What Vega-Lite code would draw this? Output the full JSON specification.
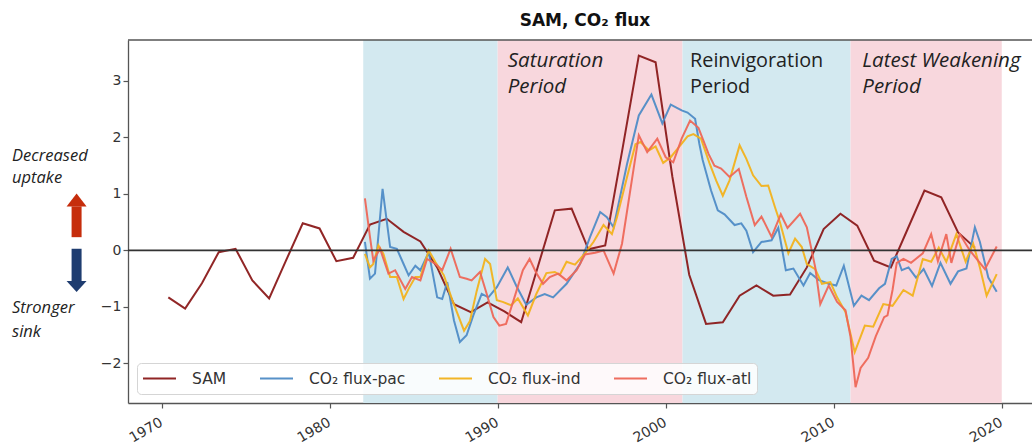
{
  "$schema": "https://vega.github.io/schema/vega-lite/v6.json",
  "width": 904,
  "height": 363,
  "autosize": {"type": "none"},
  "padding": {"left": 128, "top": 40, "right": 0, "bottom": 44},
  "background": "white",
  "view": {"stroke": null},
  "title": {"text": "SAM, CO₂ flux", "font": "DejaVu Sans", "fontSize": 17, "fontWeight": "bold", "anchor": "middle", "dx": 5, "offset": 9, "color": "#111"},
  "config": {
    "axis": {"grid": false, "title": null, "labelFont": "DejaVu Sans", "labelFontSize": 14, "labelColor": "#333", "domainColor": "#555", "domainWidth": 1.3, "tickColor": "#555", "tickSize": 5, "tickWidth": 1.2}
  },
  "datasets": {
    "bands": [
      {"start": 1982, "end": 1990, "kind": "blue"},
      {"start": 1990, "end": 2001, "kind": "pink"},
      {"start": 2001, "end": 2011, "kind": "blue"},
      {"start": 2011, "end": 2020, "kind": "pink"}
    ],
    "flux": [
      {"series":"SAM","year":1970.4,"value":-0.83},{"series":"SAM","year":1971.4,"value":-1.03},{"series":"SAM","year":1972.4,"value":-0.58},{"series":"SAM","year":1973.4,"value":-0.03},{"series":"SAM","year":1974.4,"value":0.03},{"series":"SAM","year":1975.4,"value":-0.53},{"series":"SAM","year":1976.4,"value":-0.85},{"series":"SAM","year":1977.4,"value":-0.18},{"series":"SAM","year":1978.4,"value":0.48},{"series":"SAM","year":1979.4,"value":0.39},{"series":"SAM","year":1980.4,"value":-0.19},{"series":"SAM","year":1981.4,"value":-0.13},{"series":"SAM","year":1982.4,"value":0.46},{"series":"SAM","year":1983.4,"value":0.56},{"series":"SAM","year":1984.4,"value":0.33},{"series":"SAM","year":1985.4,"value":0.16},{"series":"SAM","year":1986.4,"value":-0.3},{"series":"SAM","year":1987.4,"value":-0.95},{"series":"SAM","year":1988.4,"value":-1.09},{"series":"SAM","year":1989.4,"value":-0.92},{"series":"SAM","year":1990.4,"value":-1.08},{"series":"SAM","year":1991.4,"value":-1.27},{"series":"SAM","year":1992.4,"value":-0.28},{"series":"SAM","year":1993.4,"value":0.71},{"series":"SAM","year":1994.4,"value":0.74},{"series":"SAM","year":1995.4,"value":0.02},{"series":"SAM","year":1996.4,"value":0.09},{"series":"SAM","year":1997.4,"value":1.75},{"series":"SAM","year":1998.4,"value":3.45},{"series":"SAM","year":1999.4,"value":3.33},{"series":"SAM","year":2000.4,"value":1.3},{"series":"SAM","year":2001.4,"value":-0.43},{"series":"SAM","year":2002.4,"value":-1.3},{"series":"SAM","year":2003.4,"value":-1.27},{"series":"SAM","year":2004.4,"value":-0.8},{"series":"SAM","year":2005.4,"value":-0.62},{"series":"SAM","year":2006.4,"value":-0.8},{"series":"SAM","year":2007.4,"value":-0.78},{"series":"SAM","year":2008.4,"value":-0.3},{"series":"SAM","year":2009.4,"value":0.38},{"series":"SAM","year":2010.4,"value":0.65},{"series":"SAM","year":2011.4,"value":0.44},{"series":"SAM","year":2012.4,"value":-0.18},{"series":"SAM","year":2013.4,"value":-0.3},{"series":"SAM","year":2014.4,"value":0.38},{"series":"SAM","year":2015.4,"value":1.06},{"series":"SAM","year":2016.4,"value":0.94},{"series":"SAM","year":2017.4,"value":0.32},{"series":"SAM","year":2018.4,"value":0.05},
      {"series":"CO₂ flux-pac","year":1982.1,"value":0.15},{"series":"CO₂ flux-pac","year":1982.4,"value":-0.5},{"series":"CO₂ flux-pac","year":1982.7,"value":-0.41},{"series":"CO₂ flux-pac","year":1983.15,"value":1.09},{"series":"CO₂ flux-pac","year":1983.6,"value":0.06},{"series":"CO₂ flux-pac","year":1984.0,"value":0.03},{"series":"CO₂ flux-pac","year":1984.4,"value":-0.24},{"series":"CO₂ flux-pac","year":1984.7,"value":-0.44},{"series":"CO₂ flux-pac","year":1985.1,"value":-0.27},{"series":"CO₂ flux-pac","year":1985.4,"value":-0.35},{"series":"CO₂ flux-pac","year":1985.9,"value":-0.03},{"series":"CO₂ flux-pac","year":1986.4,"value":-0.83},{"series":"CO₂ flux-pac","year":1986.7,"value":-0.86},{"series":"CO₂ flux-pac","year":1987.0,"value":-0.56},{"series":"CO₂ flux-pac","year":1987.4,"value":-1.24},{"series":"CO₂ flux-pac","year":1987.75,"value":-1.62},{"series":"CO₂ flux-pac","year":1988.15,"value":-1.5},{"series":"CO₂ flux-pac","year":1988.55,"value":-1.15},{"series":"CO₂ flux-pac","year":1989.05,"value":-0.77},{"series":"CO₂ flux-pac","year":1989.45,"value":-0.83},{"series":"CO₂ flux-pac","year":1989.95,"value":-0.65},{"series":"CO₂ flux-pac","year":1990.6,"value":-0.3},{"series":"CO₂ flux-pac","year":1991.1,"value":-0.62},{"series":"CO₂ flux-pac","year":1991.7,"value":-0.96},{"series":"CO₂ flux-pac","year":1992.3,"value":-0.83},{"series":"CO₂ flux-pac","year":1992.8,"value":-0.77},{"series":"CO₂ flux-pac","year":1993.3,"value":-0.83},{"series":"CO₂ flux-pac","year":1994.1,"value":-0.59},{"series":"CO₂ flux-pac","year":1994.9,"value":-0.24},{"series":"CO₂ flux-pac","year":1995.5,"value":0.24},{"series":"CO₂ flux-pac","year":1996.1,"value":0.68},{"series":"CO₂ flux-pac","year":1996.5,"value":0.59},{"series":"CO₂ flux-pac","year":1996.9,"value":0.41},{"series":"CO₂ flux-pac","year":1997.7,"value":1.53},{"series":"CO₂ flux-pac","year":1998.4,"value":2.39},{"series":"CO₂ flux-pac","year":1999.15,"value":2.76},{"series":"CO₂ flux-pac","year":1999.8,"value":2.25},{"series":"CO₂ flux-pac","year":2000.3,"value":2.58},{"series":"CO₂ flux-pac","year":2000.95,"value":2.48},{"series":"CO₂ flux-pac","year":2001.3,"value":2.44},{"series":"CO₂ flux-pac","year":2001.75,"value":2.33},{"series":"CO₂ flux-pac","year":2002.0,"value":1.89},{"series":"CO₂ flux-pac","year":2002.2,"value":1.6},{"series":"CO₂ flux-pac","year":2002.7,"value":1.06},{"series":"CO₂ flux-pac","year":2003.1,"value":0.71},{"series":"CO₂ flux-pac","year":2003.5,"value":0.64},{"series":"CO₂ flux-pac","year":2004.1,"value":0.45},{"series":"CO₂ flux-pac","year":2004.5,"value":0.48},{"series":"CO₂ flux-pac","year":2004.8,"value":0.35},{"series":"CO₂ flux-pac","year":2005.2,"value":-0.03},{"series":"CO₂ flux-pac","year":2005.7,"value":0.15},{"series":"CO₂ flux-pac","year":2006.3,"value":0.18},{"series":"CO₂ flux-pac","year":2006.7,"value":0.4},{"series":"CO₂ flux-pac","year":2007.15,"value":-0.35},{"series":"CO₂ flux-pac","year":2007.6,"value":-0.32},{"series":"CO₂ flux-pac","year":2008.2,"value":-0.62},{"series":"CO₂ flux-pac","year":2008.6,"value":-0.4},{"series":"CO₂ flux-pac","year":2009.1,"value":-0.52},{"series":"CO₂ flux-pac","year":2009.7,"value":-0.59},{"series":"CO₂ flux-pac","year":2010.15,"value":-0.62},{"series":"CO₂ flux-pac","year":2010.6,"value":-0.27},{"series":"CO₂ flux-pac","year":2011.2,"value":-0.98},{"series":"CO₂ flux-pac","year":2011.65,"value":-0.8},{"series":"CO₂ flux-pac","year":2012.1,"value":-0.88},{"series":"CO₂ flux-pac","year":2012.7,"value":-0.67},{"series":"CO₂ flux-pac","year":2013.05,"value":-0.59},{"series":"CO₂ flux-pac","year":2013.45,"value":-0.15},{"series":"CO₂ flux-pac","year":2013.75,"value":-0.1},{"series":"CO₂ flux-pac","year":2014.05,"value":-0.35},{"series":"CO₂ flux-pac","year":2014.45,"value":-0.3},{"series":"CO₂ flux-pac","year":2014.9,"value":-0.48},{"series":"CO₂ flux-pac","year":2015.35,"value":-0.33},{"series":"CO₂ flux-pac","year":2015.85,"value":-0.63},{"series":"CO₂ flux-pac","year":2016.35,"value":-0.22},{"series":"CO₂ flux-pac","year":2016.95,"value":-0.59},{"series":"CO₂ flux-pac","year":2017.4,"value":-0.37},{"series":"CO₂ flux-pac","year":2017.9,"value":-0.32},{"series":"CO₂ flux-pac","year":2018.4,"value":0.41},{"series":"CO₂ flux-pac","year":2018.7,"value":0.15},{"series":"CO₂ flux-pac","year":2019.2,"value":-0.48},{"series":"CO₂ flux-pac","year":2019.7,"value":-0.73},
      {"series":"CO₂ flux-ind","year":1982.1,"value":-0.06},{"series":"CO₂ flux-ind","year":1982.4,"value":-0.3},{"series":"CO₂ flux-ind","year":1982.6,"value":-0.24},{"series":"CO₂ flux-ind","year":1982.9,"value":0.09},{"series":"CO₂ flux-ind","year":1983.2,"value":-0.06},{"series":"CO₂ flux-ind","year":1983.6,"value":-0.47},{"series":"CO₂ flux-ind","year":1984.0,"value":-0.47},{"series":"CO₂ flux-ind","year":1984.4,"value":-0.86},{"series":"CO₂ flux-ind","year":1984.7,"value":-0.68},{"series":"CO₂ flux-ind","year":1985.1,"value":-0.47},{"series":"CO₂ flux-ind","year":1985.4,"value":-0.47},{"series":"CO₂ flux-ind","year":1985.9,"value":0.0},{"series":"CO₂ flux-ind","year":1986.3,"value":-0.21},{"series":"CO₂ flux-ind","year":1986.8,"value":-0.44},{"series":"CO₂ flux-ind","year":1987.3,"value":-0.88},{"series":"CO₂ flux-ind","year":1988.0,"value":-1.42},{"series":"CO₂ flux-ind","year":1988.35,"value":-1.25},{"series":"CO₂ flux-ind","year":1988.75,"value":-0.72},{"series":"CO₂ flux-ind","year":1989.25,"value":-0.15},{"series":"CO₂ flux-ind","year":1989.55,"value":-0.24},{"series":"CO₂ flux-ind","year":1989.95,"value":-0.88},{"series":"CO₂ flux-ind","year":1990.3,"value":-0.91},{"series":"CO₂ flux-ind","year":1990.8,"value":-0.97},{"series":"CO₂ flux-ind","year":1991.2,"value":-0.85},{"series":"CO₂ flux-ind","year":1991.8,"value":-1.15},{"series":"CO₂ flux-ind","year":1992.3,"value":-0.77},{"series":"CO₂ flux-ind","year":1992.9,"value":-0.4},{"series":"CO₂ flux-ind","year":1993.4,"value":-0.38},{"series":"CO₂ flux-ind","year":1993.7,"value":-0.43},{"series":"CO₂ flux-ind","year":1994.1,"value":-0.2},{"series":"CO₂ flux-ind","year":1994.6,"value":-0.25},{"series":"CO₂ flux-ind","year":1995.2,"value":-0.05},{"series":"CO₂ flux-ind","year":1995.7,"value":0.15},{"series":"CO₂ flux-ind","year":1996.3,"value":0.45},{"series":"CO₂ flux-ind","year":1996.8,"value":0.29},{"series":"CO₂ flux-ind","year":1997.1,"value":0.59},{"series":"CO₂ flux-ind","year":1997.7,"value":1.3},{"series":"CO₂ flux-ind","year":1998.2,"value":1.88},{"series":"CO₂ flux-ind","year":1998.5,"value":1.92},{"series":"CO₂ flux-ind","year":1999.0,"value":1.77},{"series":"CO₂ flux-ind","year":1999.4,"value":1.84},{"series":"CO₂ flux-ind","year":1999.85,"value":1.55},{"series":"CO₂ flux-ind","year":2000.3,"value":1.65},{"series":"CO₂ flux-ind","year":2000.7,"value":1.8},{"series":"CO₂ flux-ind","year":2001.3,"value":2.02},{"series":"CO₂ flux-ind","year":2001.65,"value":2.06},{"series":"CO₂ flux-ind","year":2002.1,"value":1.98},{"series":"CO₂ flux-ind","year":2002.6,"value":1.55},{"series":"CO₂ flux-ind","year":2003.0,"value":1.24},{"series":"CO₂ flux-ind","year":2003.4,"value":0.97},{"series":"CO₂ flux-ind","year":2003.8,"value":1.24},{"series":"CO₂ flux-ind","year":2004.4,"value":1.86},{"series":"CO₂ flux-ind","year":2004.8,"value":1.62},{"series":"CO₂ flux-ind","year":2005.2,"value":1.33},{"series":"CO₂ flux-ind","year":2005.7,"value":1.14},{"series":"CO₂ flux-ind","year":2006.1,"value":1.15},{"series":"CO₂ flux-ind","year":2006.5,"value":0.77},{"series":"CO₂ flux-ind","year":2006.8,"value":0.5},{"series":"CO₂ flux-ind","year":2007.3,"value":-0.05},{"series":"CO₂ flux-ind","year":2007.7,"value":0.21},{"series":"CO₂ flux-ind","year":2008.1,"value":0.06},{"series":"CO₂ flux-ind","year":2008.4,"value":-0.24},{"series":"CO₂ flux-ind","year":2008.9,"value":-0.33},{"series":"CO₂ flux-ind","year":2009.3,"value":-0.59},{"series":"CO₂ flux-ind","year":2009.8,"value":-0.56},{"series":"CO₂ flux-ind","year":2010.2,"value":-0.83},{"series":"CO₂ flux-ind","year":2010.7,"value":-1.09},{"series":"CO₂ flux-ind","year":2011.25,"value":-1.8},{"series":"CO₂ flux-ind","year":2011.85,"value":-1.33},{"series":"CO₂ flux-ind","year":2012.35,"value":-1.35},{"series":"CO₂ flux-ind","year":2012.95,"value":-0.95},{"series":"CO₂ flux-ind","year":2013.5,"value":-0.98},{"series":"CO₂ flux-ind","year":2014.15,"value":-0.7},{"series":"CO₂ flux-ind","year":2014.7,"value":-0.8},{"series":"CO₂ flux-ind","year":2015.3,"value":-0.15},{"series":"CO₂ flux-ind","year":2015.8,"value":-0.2},{"series":"CO₂ flux-ind","year":2016.25,"value":0.05},{"series":"CO₂ flux-ind","year":2016.7,"value":-0.2},{"series":"CO₂ flux-ind","year":2017.3,"value":0.29},{"series":"CO₂ flux-ind","year":2017.85,"value":-0.2},{"series":"CO₂ flux-ind","year":2018.3,"value":0.12},{"series":"CO₂ flux-ind","year":2018.7,"value":-0.3},{"series":"CO₂ flux-ind","year":2019.1,"value":-0.8},{"series":"CO₂ flux-ind","year":2019.7,"value":-0.42},
      {"series":"CO₂ flux-atl","year":1982.1,"value":0.92},{"series":"CO₂ flux-atl","year":1982.4,"value":0.24},{"series":"CO₂ flux-atl","year":1982.6,"value":-0.18},{"series":"CO₂ flux-atl","year":1983.0,"value":0.03},{"series":"CO₂ flux-atl","year":1983.5,"value":-0.41},{"series":"CO₂ flux-atl","year":1983.9,"value":-0.35},{"series":"CO₂ flux-atl","year":1984.5,"value":-0.68},{"series":"CO₂ flux-atl","year":1984.9,"value":-0.47},{"series":"CO₂ flux-atl","year":1985.4,"value":-0.53},{"series":"CO₂ flux-atl","year":1985.8,"value":-0.15},{"series":"CO₂ flux-atl","year":1986.3,"value":-0.24},{"series":"CO₂ flux-atl","year":1986.7,"value":-0.35},{"series":"CO₂ flux-atl","year":1987.2,"value":0.03},{"series":"CO₂ flux-atl","year":1987.75,"value":-0.47},{"series":"CO₂ flux-atl","year":1988.15,"value":-0.5},{"series":"CO₂ flux-atl","year":1988.45,"value":-0.53},{"series":"CO₂ flux-atl","year":1988.95,"value":-0.38},{"series":"CO₂ flux-atl","year":1989.35,"value":-0.77},{"series":"CO₂ flux-atl","year":1989.75,"value":-1.18},{"series":"CO₂ flux-atl","year":1990.1,"value":-1.33},{"series":"CO₂ flux-atl","year":1990.5,"value":-1.3},{"series":"CO₂ flux-atl","year":1991.0,"value":-0.83},{"series":"CO₂ flux-atl","year":1991.5,"value":-0.35},{"series":"CO₂ flux-atl","year":1991.9,"value":-0.15},{"series":"CO₂ flux-atl","year":1992.3,"value":-0.4},{"series":"CO₂ flux-atl","year":1992.7,"value":-0.59},{"series":"CO₂ flux-atl","year":1993.1,"value":-0.47},{"series":"CO₂ flux-atl","year":1993.6,"value":-0.41},{"series":"CO₂ flux-atl","year":1994.1,"value":-0.53},{"series":"CO₂ flux-atl","year":1994.7,"value":-0.35},{"series":"CO₂ flux-atl","year":1995.2,"value":-0.07},{"series":"CO₂ flux-atl","year":1995.8,"value":-0.04},{"series":"CO₂ flux-atl","year":1996.3,"value":0.0},{"series":"CO₂ flux-atl","year":1996.9,"value":-0.41},{"series":"CO₂ flux-atl","year":1997.4,"value":0.12},{"series":"CO₂ flux-atl","year":1998.4,"value":2.04},{"series":"CO₂ flux-atl","year":1998.9,"value":1.74},{"series":"CO₂ flux-atl","year":1999.5,"value":1.98},{"series":"CO₂ flux-atl","year":2000.0,"value":1.65},{"series":"CO₂ flux-atl","year":2000.45,"value":1.56},{"series":"CO₂ flux-atl","year":2000.95,"value":1.98},{"series":"CO₂ flux-atl","year":2001.45,"value":2.3},{"series":"CO₂ flux-atl","year":2001.95,"value":2.17},{"series":"CO₂ flux-atl","year":2002.55,"value":1.71},{"series":"CO₂ flux-atl","year":2002.9,"value":1.5},{"series":"CO₂ flux-atl","year":2003.3,"value":1.45},{"series":"CO₂ flux-atl","year":2003.8,"value":1.3},{"series":"CO₂ flux-atl","year":2004.35,"value":1.44},{"series":"CO₂ flux-atl","year":2004.8,"value":0.95},{"series":"CO₂ flux-atl","year":2005.3,"value":0.45},{"series":"CO₂ flux-atl","year":2005.7,"value":0.6},{"series":"CO₂ flux-atl","year":2006.3,"value":0.24},{"series":"CO₂ flux-atl","year":2006.85,"value":0.64},{"series":"CO₂ flux-atl","year":2007.25,"value":0.4},{"series":"CO₂ flux-atl","year":2008.0,"value":0.65},{"series":"CO₂ flux-atl","year":2008.4,"value":0.41},{"series":"CO₂ flux-atl","year":2008.9,"value":-0.3},{"series":"CO₂ flux-atl","year":2009.2,"value":-0.95},{"series":"CO₂ flux-atl","year":2009.7,"value":-0.62},{"series":"CO₂ flux-atl","year":2010.2,"value":-0.91},{"series":"CO₂ flux-atl","year":2010.7,"value":-1.06},{"series":"CO₂ flux-atl","year":2011.0,"value":-1.53},{"series":"CO₂ flux-atl","year":2011.3,"value":-2.42},{"series":"CO₂ flux-atl","year":2011.6,"value":-2.08},{"series":"CO₂ flux-atl","year":2012.05,"value":-1.9},{"series":"CO₂ flux-atl","year":2012.5,"value":-1.52},{"series":"CO₂ flux-atl","year":2013.0,"value":-1.18},{"series":"CO₂ flux-atl","year":2013.2,"value":-1.15},{"series":"CO₂ flux-atl","year":2013.5,"value":-0.7},{"series":"CO₂ flux-atl","year":2013.75,"value":-0.22},{"series":"CO₂ flux-atl","year":2014.15,"value":-0.15},{"series":"CO₂ flux-atl","year":2014.6,"value":-0.22},{"series":"CO₂ flux-atl","year":2015.3,"value":-0.05},{"series":"CO₂ flux-atl","year":2015.8,"value":0.29},{"series":"CO₂ flux-atl","year":2016.2,"value":-0.19},{"series":"CO₂ flux-atl","year":2016.7,"value":0.29},{"series":"CO₂ flux-atl","year":2017.0,"value":-0.22},{"series":"CO₂ flux-atl","year":2017.5,"value":0.29},{"series":"CO₂ flux-atl","year":2018.1,"value":0.0},{"series":"CO₂ flux-atl","year":2019.0,"value":-0.33},{"series":"CO₂ flux-atl","year":2019.7,"value":0.07}
    ]
  },
  "encoding": {
    "x": {"type": "quantitative", "scale": {"domain": [1968, 2021.8], "nice": false, "zero": false}},
    "y": {"type": "quantitative", "scale": {"domain": [-2.7, 3.725], "nice": false, "zero": false}}
  },
  "layer": [
    {
      "data": {"name": "bands"},
      "mark": {"type": "rect"},
      "encoding": {
        "x": {"field": "start", "type": "quantitative", "axis": {"values": [1970, 1980, 1990, 2000, 2010, 2020], "format": "d", "labelAngle": -30, "labelAlign": "right", "labelBaseline": "top", "labelPadding": 7, "labelOffset": -4, "domain": true}},
        "x2": {"field": "end"},
        "fill": {"field": "kind", "type": "nominal", "scale": {"domain": ["blue", "pink"], "range": ["#d3e9f0", "#f8d7dd"]}, "legend": null}
      }
    },
    {
      "data": {"name": "flux"},
      "mark": {"type": "line", "strokeWidth": 2, "opacity": 0.95},
      "encoding": {
        "x": {"field": "year", "type": "quantitative"},
        "y": {"field": "value", "type": "quantitative", "axis": {"values": [-2, -1, 0, 1, 2, 3], "format": "d", "labelPadding": 2}},
        "color": {
          "field": "series", "type": "nominal",
          "scale": {"domain": ["SAM", "CO₂ flux-pac", "CO₂ flux-ind", "CO₂ flux-atl"], "range": ["#8b1a1a", "#4f8cc6", "#f2b21c", "#ee6757"]},
          "legend": {"title": null, "orient": "bottom-left", "direction": "horizontal", "columns": 4, "offset": 9, "padding": 5, "fillColor": "rgba(255,255,255,0.85)", "strokeColor": "#d5d5d5", "cornerRadius": 4, "symbolType": "stroke", "symbolSize": 1089, "symbolStrokeWidth": 2, "labelOffset": 15, "columnPadding": 32, "labelFont": "DejaVu Sans", "labelFontSize": 15.5, "labelColor": "#333", "clipHeight": 21}
        }
      }
    },
    {
      "data": {"values": [{}]},
      "mark": {"type": "rule", "color": "#333", "strokeWidth": 1.8},
      "encoding": {"y": {"datum": 0}}
    },
    {
      "data": {"values": [{}]},
      "mark": {"type": "rule", "color": "#555", "strokeWidth": 1.3},
      "encoding": {"y": {"datum": 3.725}}
    },
    {
      "data": {"values": [{}]},
      "mark": {"type": "rule", "color": "#c62d0c", "strokeWidth": 10},
      "encoding": {"x": {"datum": 1964.94}, "y": {"datum": 0.235}, "y2": {"datum": 0.78}}
    },
    {
      "data": {"values": [{}]},
      "mark": {"type": "point", "shape": "M-1,0.3L0,-1L1,0.3Z", "size": 400, "filled": true, "color": "#c62d0c", "opacity": 1, "strokeWidth": 0},
      "encoding": {"x": {"datum": 1964.94}, "y": {"datum": 0.83}}
    },
    {
      "data": {"values": [{}]},
      "mark": {"type": "rule", "color": "#1f3d70", "strokeWidth": 10},
      "encoding": {"x": {"datum": 1964.94}, "y": {"datum": 0.03}, "y2": {"datum": -0.56}}
    },
    {
      "data": {"values": [{}]},
      "mark": {"type": "point", "shape": "M-1,-0.3L0,0.8L1,-0.3Z", "size": 400, "filled": true, "color": "#1f3d70", "opacity": 1, "strokeWidth": 0},
      "encoding": {"x": {"datum": 1964.94}, "y": {"datum": -0.593}}
    },
    {
      "data": {"values": [{}]},
      "mark": {"type": "text", "text": ["Decreased", "uptake"], "font": "Open Sans", "fontStyle": "italic", "fontSize": 16.5, "lineHeight": 22.6, "align": "left", "baseline": "alphabetic", "color": "#222"},
      "encoding": {"x": {"datum": 1961.1}, "y": {"datum": 1.59}}
    },
    {
      "data": {"values": [{}]},
      "mark": {"type": "text", "text": ["Stronger", "sink"], "font": "Open Sans", "fontStyle": "italic", "fontSize": 16.5, "lineHeight": 23.4, "align": "left", "baseline": "alphabetic", "color": "#222"},
      "encoding": {"x": {"datum": 1961.1}, "y": {"datum": -1.11}}
    },
    {
      "data": {"values": [{}]},
      "mark": {"type": "text", "text": ["Saturation", "Period"], "font": "Open Sans", "fontStyle": "italic", "fontSize": 20.5, "lineHeight": 26.6, "align": "left", "baseline": "alphabetic", "color": "#222"},
      "encoding": {"x": {"datum": 1990.6}, "y": {"datum": 3.253}}
    },
    {
      "data": {"values": [{}]},
      "mark": {"type": "text", "text": ["Reinvigoration", "Period"], "font": "Open Sans", "fontSize": 19.8, "lineHeight": 26.6, "align": "left", "baseline": "alphabetic", "color": "#222"},
      "encoding": {"x": {"datum": 2001.45}, "y": {"datum": 3.253}}
    },
    {
      "data": {"values": [{}]},
      "mark": {"type": "text", "text": ["Latest Weakening", "Period"], "font": "Open Sans", "fontStyle": "italic", "fontSize": 20.5, "lineHeight": 26.6, "align": "left", "baseline": "alphabetic", "color": "#222"},
      "encoding": {"x": {"datum": 2011.7}, "y": {"datum": 3.253}}
    }
  ]
}
